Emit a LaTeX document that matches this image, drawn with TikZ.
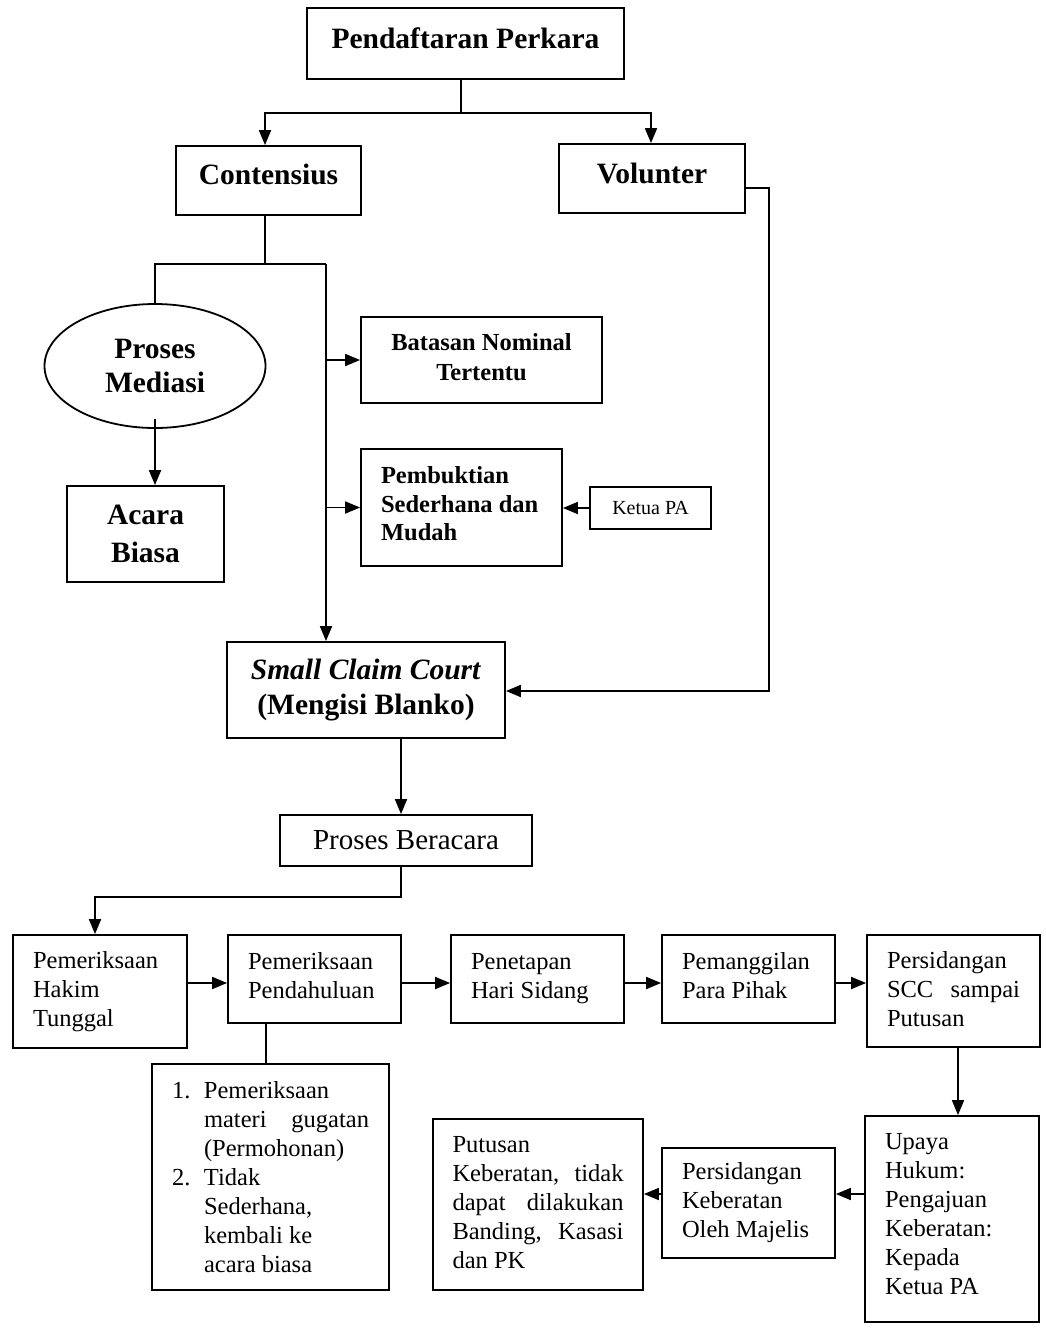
\documentclass[tikz,border=0pt]{standalone}
\usepackage{fontspec}
\setmainfont{Liberation Serif}
\usetikzlibrary{arrows.meta,shapes.geometric}
\begin{document}
\begin{tikzpicture}[x=1pt,y=-1pt,
  cbox/.style={draw, line width=1.8pt, align=flush center, inner sep=0pt},
  lbox/.style={draw, line width=1.8pt, align=flush left, inner xsep=20pt, inner ysep=0pt},
  bigb/.style={font={\fontsize{29.5pt}{34pt}\selectfont\bfseries}},
  midb/.style={font={\fontsize{24.5pt}{30pt}\selectfont\bfseries}},
  txt/.style={font={\fontsize{24.5pt}{29pt}\selectfont}},
  lift/.style={execute at end node={\rule[-#1]{0pt}{0pt}}},
  line/.style={line width=1.8pt},
  arr/.style={line width=1.8pt, -{Triangle[length=15pt,width=12pt]}}
]
\path[use as bounding box, fill=white] (0,0) rectangle (1045,1331);

% top level
\node[cbox, bigb, lift=10pt, minimum width=317pt, minimum height=71pt] (pend) at (465.5,43.5) {Pendaftaran Perkara};
\node[cbox, bigb, lift=12pt, minimum width=185pt, minimum height=69pt] (cont) at (268.5,180.5) {Contensius};
\node[cbox, bigb, lift=11pt, minimum width=186pt, minimum height=69pt] (vol) at (652,178.5) {Volunter};

% contensius branch
\node[draw, ellipse, line width=1.8pt, bigb, align=flush center, inner sep=0pt,
      minimum width=221pt, minimum height=124pt] (med) at (155,366) {Proses\\Mediasi};
\node[cbox, font={\fontsize{29.5pt}{38pt}\selectfont\bfseries}, minimum width=157pt, minimum height=96pt] (acara) at (145.5,534) {Acara\\Biasa};
\node[cbox, midb, lift=6pt, minimum width=241pt, minimum height=86pt] (bat) at (481.5,360) {Batasan Nominal\\Tertentu};
\node[lbox, font={\fontsize{24.5pt}{28.5pt}\selectfont\bfseries}, lift=8pt, text width=161pt, minimum height=117pt] (pemb) at (461.5,507.5) {Pembuktian\\Sederhana dan\\Mudah};
\node[cbox, font={\fontsize{20pt}{24pt}\selectfont}, minimum width=121pt, minimum height=42pt] (ketua) at (650.5,508) {Ketua PA};

% small claim court
\node[cbox, font={\fontsize{29.5pt}{35pt}\selectfont\bfseries}, minimum width=278pt, minimum height=96pt] (scc) at (366,690) {\textit{Small Claim Court}\\(Mengisi Blanko)};
\node[cbox, font={\fontsize{29pt}{32pt}\selectfont}, minimum width=252pt, minimum height=51pt] (pb) at (406,840.5) {Proses Beracara};

% bottom row
\node[lbox, txt, text width=134pt, minimum height=113pt] (hakim) at (100,991.5) {Pemeriksaan\\Hakim\\Tunggal};
\node[lbox, txt, lift=8pt, text width=133pt, minimum height=88pt] (pendh) at (314.5,979) {Pemeriksaan\\Pendahuluan};
\node[lbox, txt, text width=133pt, minimum height=88pt] (penet) at (537.5,979) {Penetapan\\Hari Sidang};
\node[lbox, txt, lift=8pt, text width=133pt, minimum height=88pt] (pemang) at (748.5,979) {Pemanggilan\\Para Pihak};
\node[lbox, txt, lift=4pt, text width=133pt, minimum height=112pt] (sidang) at (953.5,991) {Persidangan\\SCC\hfill sampai\\Putusan};

\node[lbox, txt, text width=197pt, minimum height=226pt] (list) at (270.5,1177)
  {\makebox[32pt][l]{1.}Pemeriksaan\\
   \hspace*{32pt}materi\hfill gugatan\\
   \hspace*{32pt}(Permohonan)\\
   \makebox[32pt][l]{2.}Tidak\\
   \hspace*{32pt}Sederhana,\\
   \hspace*{32pt}kembali ke\\
   \hspace*{32pt}acara biasa};

\node[lbox, txt, lift=10pt, text width=134pt, minimum height=206pt] (upaya) at (952,1219) {Upaya\\Hukum:\\Pengajuan\\Keberatan:\\Kepada\\Ketua PA};
\node[lbox, txt, text width=133pt, minimum height=110pt] (keb) at (748.5,1203) {Persidangan\\Keberatan\\Oleh Majelis};
\node[lbox, txt, lift=4pt, inner xsep=19.5pt, text width=171pt, minimum height=171pt] (put) at (538,1204.5) {Putusan\\Keberatan,\hfill tidak\\dapat\hfill dilakukan\\Banding,\hfill Kasasi\\dan PK};

% connectors: top
\coordinate (j1) at (461,113);
\draw[line] (pend.south -| j1) -- (j1);
\draw[arr] (j1) -| ([xshift=-3.5pt]cont.north);
\draw[arr] (j1) -| ([xshift=-1pt]vol.north);

% contensius split
\coordinate (j2) at (265,264);
\coordinate (j2l) at (155,264);
\coordinate (j2r) at (326,264);
\draw[line] ([xshift=-3.5pt]cont.south) -- (j2);
\draw[line] (med.north) -- (j2l) -- (j2r);
\draw[arr] (j2r) -- (j2r |- scc.north);
\draw[arr] (j2r |- bat.west) -- (bat.west);
\draw[arr] (j2r |- pemb.west) -- (pemb.west);
\draw[arr] ([yshift=10pt]med.south) -- (med.south |- acara.north);
\draw[arr] (ketua.west) -- (ketua.west -| pemb.east);

% volunter to scc
\coordinate (v1) at (769,188);
\coordinate (v2) at (769,691);
\draw[arr] (v1 -| vol.east) -- (v1) -- (v2) -- (v2 -| scc.east);

% scc to proses beracara to row
\coordinate (xs) at (401,897);
\coordinate (xh) at (95,897);
\draw[arr] (scc.south -| xs) -- (pb.north -| xs);
\draw[arr] (pb.south -| xs) -- (xs) -- (xh) -- (xh |- hakim.north);

% row arrows
\coordinate (ry) at (0,983);
\draw[arr] (hakim.east |- ry) -- (pendh.west |- ry);
\draw[arr] (pendh.east |- ry) -- (penet.west |- ry);
\draw[arr] (penet.east |- ry) -- (pemang.west |- ry);
\draw[arr] (pemang.east |- ry) -- (sidang.west |- ry);

\coordinate (xl) at (266,0);
\draw[line] (pendh.south -| xl) -- (list.north -| xl);

\coordinate (xu) at (958,0);
\draw[arr] (sidang.south -| xu) -- (upaya.north -| xu);

\coordinate (ry2) at (0,1194);
\draw[arr] (upaya.west |- ry2) -- (keb.east |- ry2);
\draw[arr] (keb.west |- ry2) -- (put.east |- ry2);
\end{tikzpicture}
\end{document}
